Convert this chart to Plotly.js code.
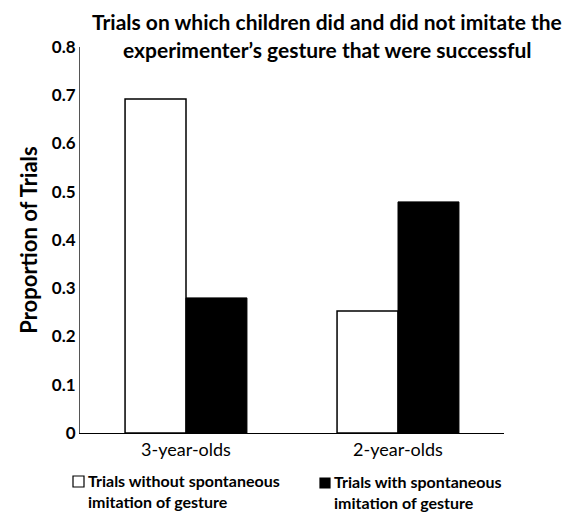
<!DOCTYPE html>
<html>
<head>
<meta charset="utf-8">
<script src="https://cdn.plot.ly/plotly-3.0.1.min.js"></script>
<style>html,body{margin:0;padding:0;background:#fff;}#chart{width:571px;height:512px;}</style>
</head>
<body>
<div id="chart"></div>
<script>
var categories = ["3-year-olds", "2-year-olds"];
var seriesNames = ["Trials without spontaneous<br>imitation of gesture", "Trials with spontaneous<br>imitation of gesture"];
var seriesColors = ["#ffffff", "#000000"];
var withoutImitation = [0.692, 0.253];
var withImitation = [0.280, 0.479];
var yTickValues = [0, 0.1, 0.2, 0.3, 0.4, 0.5, 0.6, 0.7, 0.8];
var yTickLabels = ["0", "0.1", "0.2", "0.3", "0.4", "0.5", "0.6", "0.7", "0.8"];
var titleLines = ["Trials on which children did and did not imitate the", "experimenter\u2019s gesture that were successful"];

var FONT = "Lato, 'Open Sans', sans-serif";
var W = 571, H = 512, ML = 80, MR = 67, MT = 47, MB = 79;
var PW = W - ML - MR, PH = H - MT - MB;
function px(x) { return (x - ML) / PW; }
function py(y) { return (H - MB - y) / PH; }

var traces = [
  {type: "bar", x: categories, y: withoutImitation, name: seriesNames[0], showlegend: false,
   marker: {color: seriesColors[0], line: {color: "#000000", width: 1.5}}},
  {type: "bar", x: categories, y: withImitation, name: seriesNames[1], showlegend: false,
   marker: {color: seriesColors[1], line: {color: "#000000", width: 1}}}
];

var legendItems = [
  {sx0: 73, sx1: 84, sy0: 476, sy1: 487, tx: 87, ty: 491},
  {sx0: 320, sx1: 330, sy0: 478, sy1: 488, tx: 333, ty: 492}
];
var shapes = [];
var annotations = [];
legendItems.forEach(function (it, i) {
  shapes.push({type: "rect", xref: "paper", yref: "paper", x0: px(it.sx0), x1: px(it.sx1), y0: py(it.sy1), y1: py(it.sy0),
               fillcolor: seriesColors[i], line: {color: "#000", width: 1.2}});
  annotations.push({xref: "paper", yref: "paper", x: px(it.tx), y: py(it.ty), xanchor: "left", yanchor: "middle",
                    align: "left", showarrow: false, borderpad: 0, text: "<b>" + seriesNames[i].replace("<br>", "</b><br><b>") + "</b>",
                    font: {family: FONT, size: 16, color: "#000"}});
});
[22, 49].forEach(function (yc, i) {
  annotations.push({xref: "paper", yref: "paper", x: px(327), y: py(yc), xanchor: "center", yanchor: "middle",
                    showarrow: false, text: "<b>" + titleLines[i] + "</b>",
                    font: {family: FONT, size: 21, color: "#000"}});
});

var layout = {
  width: W, height: H,
  margin: {l: ML, r: MR, t: MT, b: MB},
  paper_bgcolor: "#ffffff", plot_bgcolor: "#ffffff",
  barmode: "group", bargap: 0.425, bargroupgap: 0,
  showlegend: false,
  xaxis: {range: [-0.5, 1.5], showline: true, linecolor: "#000", linewidth: 1, ticks: "",
          tickfont: {family: FONT, size: 18, color: "#000"}, showgrid: false, zeroline: false, fixedrange: true},
  yaxis: {range: [0, 0.8], tickvals: yTickValues, ticktext: yTickLabels.map(function(t){return "<b>"+t+"</b>";}),
          showline: true, linecolor: "#555", linewidth: 1, ticks: "", showgrid: false, zeroline: false,
          tickfont: {family: FONT, size: 17, color: "#000"},
          title: {text: "<b>Proportion of Trials</b>", font: {family: FONT, size: 22, color: "#000"}, standoff: 8}},
  shapes: shapes,
  annotations: annotations
};

Plotly.newPlot("chart", traces, layout, {displayModeBar: false, staticPlot: true});
</script>
</body>
</html>
